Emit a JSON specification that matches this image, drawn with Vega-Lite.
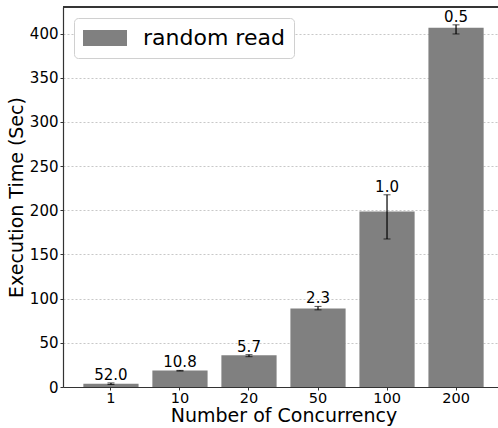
{
  "$schema": "https://vega.github.io/schema/vega-lite/v6.json",
  "autosize": {"type": "none"},
  "padding": {"left": 63, "top": 7, "right": 0, "bottom": 41},
  "width": 435,
  "height": 380,
  "background": "white",
  "config": {
    "font": "DejaVu Sans",
    "view": {"stroke": null},
    "axis": {"labelFont": "DejaVu Sans", "titleFont": "DejaVu Sans", "labelColor": "black", "titleColor": "black", "titleFontWeight": "normal"}
  },
  "data": {
    "values": [
      {"conc": "1", "time": 3.8, "lo": 2.8, "hi": 4.6, "label": "52.0", "series": "random read"},
      {"conc": "10", "time": 18.7, "lo": 18.0, "hi": 18.8, "label": "10.8", "series": "random read"},
      {"conc": "20", "time": 35.8, "lo": 34.3, "hi": 36.6, "label": "5.7", "series": "random read"},
      {"conc": "50", "time": 88.8, "lo": 87.3, "hi": 91.2, "label": "2.3", "series": "random read"},
      {"conc": "100", "time": 198.5, "lo": 167.5, "hi": 217.5, "label": "1.0", "series": "random read"},
      {"conc": "200", "time": 406.5, "lo": 399.5, "hi": 409.8, "label": "0.5", "series": "random read"}
    ]
  },
  "layer": [
    {
      "mark": {"type": "bar", "color": "#808080"},
      "encoding": {
        "x": {
          "field": "conc", "type": "ordinal", "sort": null,
          "scale": {"range": [0, 441], "paddingInner": 0.2, "paddingOuter": 0.295},
          "axis": {"title": "Number of Concurrency", "titleFontSize": 19, "titlePadding": 2, "labelFontSize": 14.5, "labelAngle": 0, "labelPadding": 1, "tickSize": 3, "tickColor": "#333", "domainColor": "#333", "domainWidth": 1.2, "grid": false}
        },
        "y": {
          "field": "time", "type": "quantitative", "title": "Execution Time (Sec)",
          "scale": {"domain": [0, 430], "nice": false, "zero": true},
          "axis": {"titleFontSize": 19, "titlePadding": 3, "labelFontSize": 15, "labelPadding": 2, "values": [0, 50, 100, 150, 200, 250, 300, 350, 400], "tickSize": 3, "tickColor": "#333", "domainColor": "#333", "domainWidth": 1.2, "grid": true, "gridColor": "#b0b0b0", "gridDash": [2, 2], "gridWidth": 0.7}
        },
        "color": {
          "field": "series", "type": "nominal",
          "scale": {"range": ["#808080"]},
          "legend": {
            "title": null, "orient": "top-left", "offset": 11,
            "labelFontSize": 22, "labelFont": "DejaVu Sans", "labelColor": "black",
            "symbolType": "M-5.5,-2H5.5V2H-5.5Z", "symbolSize": 64, "symbolStrokeWidth": 0, "symbolOpacity": 1, "symbolOffset": 11,
            "fillColor": "white", "strokeColor": "#d0d0d0", "cornerRadius": 4, "padding": 9, "labelOffset": 27
          }
        }
      }
    },
    {
      "mark": {"type": "errorbar", "color": "black", "ticks": {"size": 7, "color": "black", "strokeWidth": 1.2}, "rule": {"strokeWidth": 1.2}},
      "encoding": {
        "x": {"field": "conc", "type": "ordinal", "sort": null},
        "y": {"field": "lo", "type": "quantitative", "title": "Execution Time (Sec)"},
        "y2": {"field": "hi"}
      }
    },
    {
      "mark": {"type": "text", "fontSize": 15, "color": "black", "baseline": "alphabetic", "dy": -3, "font": "DejaVu Sans"},
      "encoding": {
        "x": {"field": "conc", "type": "ordinal", "sort": null},
        "y": {"field": "hi", "type": "quantitative", "title": "Execution Time (Sec)"},
        "text": {"field": "label"}
      }
    },
    {
      "mark": {"type": "rule", "color": "#333", "strokeWidth": 1.2},
      "encoding": {"y": {"datum": 430, "type": "quantitative", "title": "Execution Time (Sec)"}}
    }
  ]
}
